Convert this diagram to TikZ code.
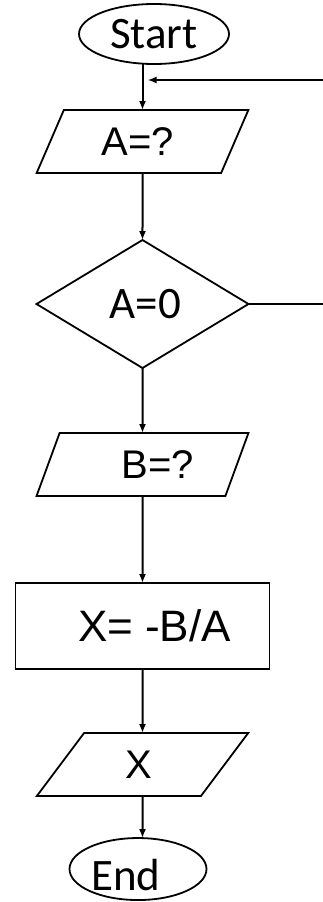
\documentclass[tikz,border=0pt]{standalone}
\usepackage{fontspec}
\setmainfont{Carlito}
\newfontfamily\arialfont{Liberation Sans}
\usepackage{tikz}
\usetikzlibrary{arrows.meta,positioning,shapes.geometric}
\tikzset{
  fcterm/.style={draw,ellipse,line width=1.8pt,inner sep=0pt,outer sep=0pt,font=\fontsize{45}{50}\selectfont},
  fcio/.style={draw,trapezium,trapezium left angle=63,trapezium right angle=117,trapezium stretches=true,line width=1.8pt,inner sep=0pt,outer sep=0pt,minimum width=212pt,minimum height=63pt,font=\arialfont\fontsize{40}{44}\selectfont},
  fcdec/.style={draw,diamond,line width=1.8pt,inner sep=0pt,outer sep=0pt,minimum width=212pt,minimum height=128pt,font=\fontsize{45}{50}\selectfont},
  fcproc/.style={draw,rectangle,line width=1.8pt,inner sep=0pt,outer sep=0pt,minimum width=254pt,minimum height=86pt,font=\arialfont\fontsize{44}{48}\selectfont},
  fcflow/.style={-{Latex[length=9pt,width=7pt]},line width=2pt},
  fcline/.style={line width=2pt},
}

\begin{document}
\begin{tikzpicture}[x=1pt,y=-1pt]
\useasboundingbox (0,0) rectangle (323,902);
\node[fcterm,minimum width=150pt,minimum height=60pt] (start) at (154,34) {Start};
\node[fcio,below=46pt of start,xshift=-11.5pt] (inA) {A=?\hspace*{10pt}};
\node[fcdec,below=67pt of inA] (cond) {\hspace*{6pt}A=0};
\node[fcio,below=65pt of cond] (inB) {\hspace*{30pt}B=?};
\node[fcproc,below=87pt of inB] (calc) {\hspace*{24pt}X= -B/A};
\node[fcio,below=64pt of calc] (outX) {X\hspace*{8pt}};
\node[fcterm,minimum width=137pt,minimum height=62pt,text height=43pt,text depth=0pt,below=42pt of outX,xshift=-4.5pt] (end) {End\hspace*{24pt}};
% loop back from the right edge
\coordinate (loopin) at (323,80);
\coordinate (joinpt) at (inA.north |- loopin);
\coordinate (loopout) at (cond.east -| loopin);
\draw[fcflow] (start.south -| inA.north) -- (inA.north);
\draw[fcflow,shorten >=5pt] (loopin) -- (joinpt);
\draw[fcflow] (inA) -- (cond);
\draw[fcline] (cond.east) -- (loopout);
\draw[fcflow] (cond) -- (inB);
\draw[fcflow] (inB) -- (calc);
\draw[fcflow] (calc) -- (outX);
\draw[fcflow] (outX) -- (end.north -| outX.south);
\end{tikzpicture}
\end{document}
